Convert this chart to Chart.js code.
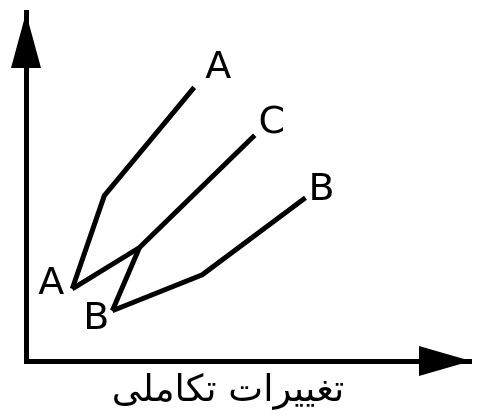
<!DOCTYPE html>
<html>
<head>
<meta charset="utf-8">
<script src="https://cdn.jsdelivr.net/npm/chart.js@4.4.1/dist/chart.umd.min.js"></script>
<style>
  html, body { margin: 0; padding: 0; background: #fff; }
  #wrap { width: 478px; height: 420px; }
</style>
</head>
<body>
<div id="wrap"><canvas id="chartCanvas"></canvas></div>
<script>
// Data (x/y in arbitrary "evolutionary change" units)
const seriesNames = ['A', 'B', 'C'];
const aX = [1.04, 1.76, 3.78];
const aY = [2.07, 4.74, 7.84];
const bX = [1.94, 3.96, 6.28];
const bY = [1.44, 2.47, 4.68];
// C leaves A's origin, crosses B's branch and goes on
const cX = [1.04, 2.55, 5.14];
const cY = [2.07, 3.25, 6.47];
// branch from B's origin joining C
const cFromBX = [1.94, 2.55];
const cFromBY = [1.44, 3.25];
const xAxisTitle = 'تغییرات تکاملی';

function toPoints(xs, ys) {
    return xs.map((x, i) => ({ x: x, y: ys[i] }));
}

// Arrowheads, point labels and axis title
const decorPlugin = {
    id: 'decor',
    afterDraw(chart) {
        const ctx = chart.ctx;
        const area = chart.chartArea;
        ctx.save();
        ctx.fillStyle = '#000';
        // y axis arrow
        ctx.beginPath();
        ctx.moveTo(area.left, area.top + 1);
        ctx.lineTo(area.left - 15, area.top + 56);
        ctx.lineTo(area.left + 15, area.top + 56);
        ctx.closePath();
        ctx.fill();
        // x axis arrow
        ctx.beginPath();
        ctx.moveTo(area.right, area.bottom);
        ctx.lineTo(area.right - 52, area.bottom - 15);
        ctx.lineTo(area.right - 52, area.bottom + 15);
        ctx.closePath();
        ctx.fill();

        // series labels
        ctx.font = '38px "DejaVu Sans"';
        ctx.textBaseline = 'middle';
        chart.data.datasets.forEach((ds, i) => {
            const meta = chart.getDatasetMeta(i);
            const pts = meta.data;
            if (ds.endLabel) {
                const p = pts[pts.length - 1];
                ctx.textAlign = 'center';
                ctx.fillText(ds.endLabel, p.x + ds.endOffset[0], p.y + ds.endOffset[1]);
            }
            if (ds.startLabel) {
                const p = pts[0];
                ctx.textAlign = 'center';
                ctx.fillText(ds.startLabel, p.x + ds.startOffset[0], p.y + ds.startOffset[1]);
            }
        });

        // x axis title
        ctx.font = '37px "DejaVu Sans"';
        ctx.textAlign = 'center';
        ctx.direction = 'rtl';
        ctx.fillText(xAxisTitle, 228, 391);
        ctx.restore();
    }
};

const lineStyle = {
    showLine: true,
    borderColor: '#000',
    borderWidth: 5,
    pointRadius: 0,
    pointHoverRadius: 0,
    fill: false
};

const ctx = document.getElementById('chartCanvas').getContext('2d');
const evoChart = new Chart(ctx, {
    type: 'scatter',
    data: {
        datasets: [
            Object.assign({ label: seriesNames[0], data: toPoints(aX, aY),
                startLabel: 'A', startOffset: [-21, -5],
                endLabel: 'A', endOffset: [24, -19], borderJoinStyle: 'round' }, lineStyle),
            Object.assign({ label: seriesNames[1], data: toPoints(bX, bY),
                startLabel: 'B', startOffset: [-16, 8],
                endLabel: 'B', endOffset: [16, -8] }, lineStyle),
            Object.assign({ label: seriesNames[2], data: toPoints(cX, cY),
                endLabel: 'C', endOffset: [17, -12] }, lineStyle),
            Object.assign({ label: seriesNames[2] + ' (B)', data: toPoints(cFromBX, cFromBY) }, lineStyle)
        ]
    },
    options: {
        responsive: true,
        maintainAspectRatio: false,
        animation: false,
        events: [],
        layout: { padding: { left: 26, right: 7, top: 12, bottom: 59 } },
        plugins: {
            legend: { display: false },
            tooltip: { enabled: false }
        },
        scales: {
            x: {
                type: 'linear',
                min: 0,
                max: 10,
                grid: { display: false, drawTicks: false },
                ticks: { display: false },
                border: { display: true, color: '#000', width: 5 }
            },
            y: {
                type: 'linear',
                min: 0,
                max: 10,
                grid: { display: false, drawTicks: false },
                ticks: { display: false },
                border: { display: true, color: '#000', width: 5 }
            }
        }
    },
    plugins: [decorPlugin]
});
</script>
</body>
</html>
